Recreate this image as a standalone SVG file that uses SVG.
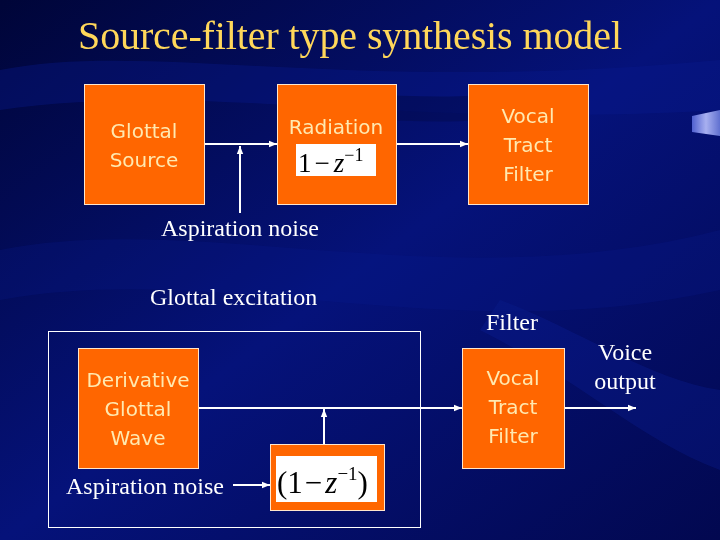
<svg xmlns="http://www.w3.org/2000/svg" width="720" height="540" viewBox="0 0 720 540">
<defs>
<linearGradient id="bg" x1="0" y1="0" x2="1" y2="1">
<stop offset="0" stop-color="#000538"/>
<stop offset="0.5" stop-color="#05127A"/>
<stop offset="1" stop-color="#020850"/>
</linearGradient>
<linearGradient id="tab" x1="0" y1="0" x2="1" y2="0">
<stop offset="0" stop-color="#5060D0"/>
<stop offset="0.5" stop-color="#A8B0F0"/>
<stop offset="1" stop-color="#6070D0"/>
</linearGradient>
<marker id="ah" viewBox="0 0 10 10" refX="10" refY="5" markerWidth="8" markerHeight="8" markerUnits="userSpaceOnUse" orient="auto">
<path d="M0,1 L10,5 L0,9 z" fill="#FFFFFF"/>
</marker>
<style>
.box{fill:#FF6600;stroke:#FFE6CC;stroke-width:1}
.bt{font-family:"DejaVu Sans",Verdana,sans-serif;font-size:20px;fill:#FFE9B0;text-anchor:middle}
.lt{font-family:"Liberation Serif","Times New Roman",serif;font-size:24px;fill:#FFFFFF}
.fm{font-family:"Liberation Serif","Times New Roman",serif;fill:#000000}
.ln{stroke:#FFFFFF;stroke-width:2;fill:none}
</style>
</defs>
<rect width="720" height="540" fill="url(#bg)"/>
<g opacity="0.35">
<path d="M0,70 C150,40 350,95 720,60 L720,110 C400,130 200,80 0,110 z" fill="#0A1C90"/>
<path d="M0,250 C200,210 450,300 720,230 L720,290 C450,350 220,260 0,300 z" fill="#0B1E95" opacity="0.6"/>
<path d="M500,300 C580,330 650,380 720,390 L720,470 C640,440 580,380 480,330 z" fill="#1028A8" opacity="0.7"/>
<path d="M300,100 C360,90 420,100 480,95 L480,120 C420,125 360,115 300,125 z" fill="#000530" opacity="0.7"/>
</g>
<path d="M692,116 L720,110 L720,136 L692,132 z" fill="url(#tab)"/>
<text x="350" y="49" font-family="'Liberation Serif','Times New Roman',serif" font-size="40" fill="#FFD75A" text-anchor="middle" textLength="544">Source-filter type synthesis model</text>
<g id="connectors">
<line class="ln" x1="205" y1="144" x2="277" y2="144" marker-end="url(#ah)"/>
<line class="ln" x1="240" y1="213" x2="240" y2="146" marker-end="url(#ah)"/>
<line class="ln" x1="396" y1="144" x2="468" y2="144" marker-end="url(#ah)"/>
<line class="ln" x1="198" y1="408" x2="462" y2="408" marker-end="url(#ah)"/>
<line class="ln" x1="324" y1="444" x2="324" y2="409" marker-end="url(#ah)"/>
<line class="ln" x1="233" y1="485" x2="270" y2="485" marker-end="url(#ah)"/>
<line class="ln" x1="564" y1="408" x2="636" y2="408" marker-end="url(#ah)"/>
</g>
<g id="glottal-source">
<rect class="box" x="84.5" y="84.5" width="120" height="120"/>
<text class="bt" x="144" y="138">Glottal</text>
<text class="bt" x="144" y="167">Source</text>
</g>
<g id="radiation">
<rect class="box" x="277.5" y="84.5" width="119" height="120"/>
<text class="bt" x="336" y="134">Radiation</text>
<rect x="296" y="144" width="80" height="32" fill="#FFFFFF"/>
<text class="fm" x="298" y="172" font-size="27">1<tspan dx="3">−</tspan><tspan dx="4" font-style="italic">z</tspan><tspan dy="-11" font-size="18">−1</tspan></text>
</g>
<g id="vocal-tract-top">
<rect class="box" x="468.5" y="84.5" width="120" height="120"/>
<text class="bt" x="528" y="123">Vocal</text>
<text class="bt" x="528" y="152">Tract</text>
<text class="bt" x="528" y="181">Filter</text>
</g>
<text class="lt" x="161" y="236">Aspiration noise</text>
<text class="lt" x="150" y="305">Glottal excitation</text>
<rect x="48.5" y="331.5" width="372" height="196" fill="none" stroke="#FFFFFF" stroke-width="1"/>
<g id="derivative-glottal-wave">
<rect class="box" x="78.5" y="348.5" width="120" height="120"/>
<text class="bt" x="138" y="387">Derivative</text>
<text class="bt" x="138" y="416">Glottal</text>
<text class="bt" x="138" y="445">Wave</text>
</g>
<g id="aspiration-filter">
<rect class="box" x="270.5" y="444.5" width="114" height="66"/>
<rect x="276" y="456" width="101" height="46" fill="#FFFFFF"/>
<text class="fm" x="277" y="493" font-size="31">(1<tspan dx="2">−</tspan><tspan dx="3" font-style="italic">z</tspan><tspan dy="-13" font-size="19">−1</tspan><tspan dy="13">)</tspan></text>
</g>
<text class="lt" x="66" y="494">Aspiration noise</text>
<text class="lt" x="486" y="330">Filter</text>
<g id="vocal-tract-bottom">
<rect class="box" x="462.5" y="348.5" width="102" height="120"/>
<text class="bt" x="513" y="385">Vocal</text>
<text class="bt" x="513" y="414">Tract</text>
<text class="bt" x="513" y="443">Filter</text>
</g>
<text class="lt" x="625" y="360" text-anchor="middle">Voice</text>
<text class="lt" x="625" y="389" text-anchor="middle">output</text>
</svg>
